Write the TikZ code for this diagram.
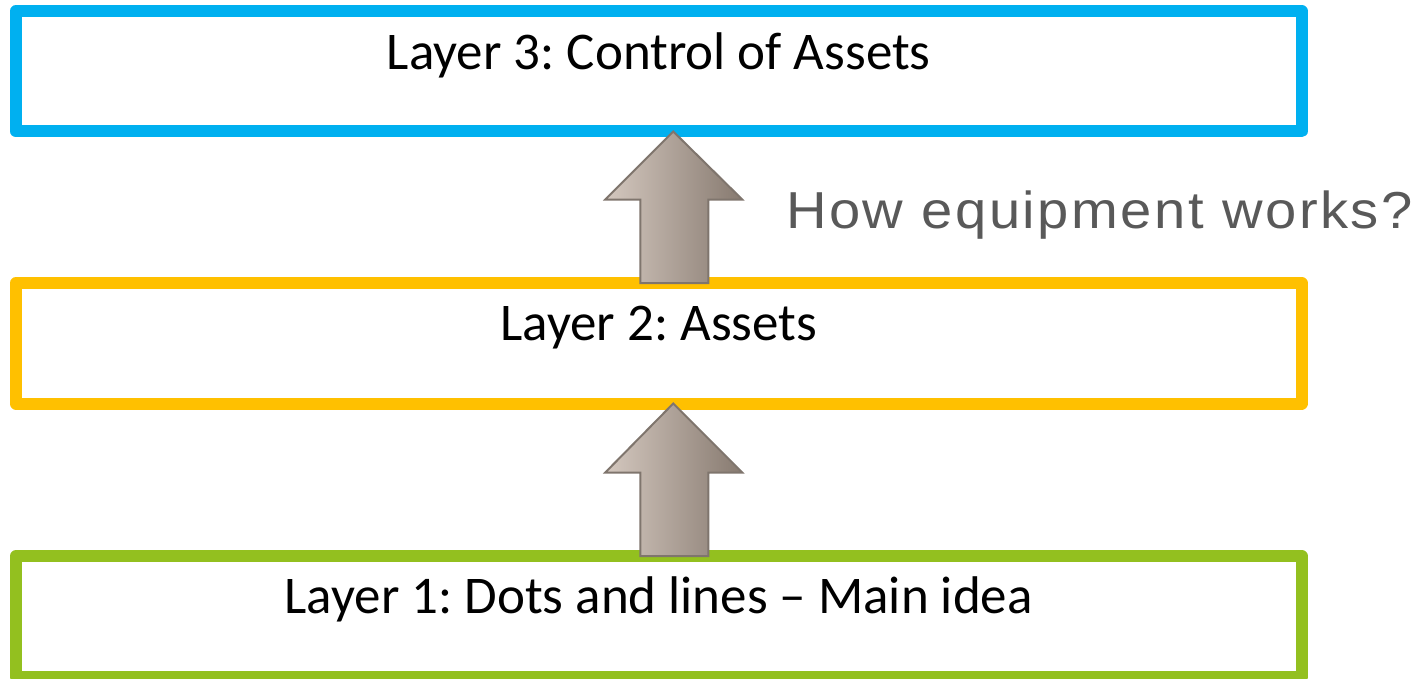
\documentclass[tikz,border=0pt]{standalone}
\usepackage{fontspec}
\setmainfont{Carlito}
\newfontfamily\notefont[LetterSpace=4.5]{Liberation Sans}
\usetikzlibrary{calc}
\definecolor{cblue}{HTML}{00B0F0}
\definecolor{corange}{HTML}{FFC000}
\definecolor{cgreen}{HTML}{93C01F}
\definecolor{agray1}{HTML}{D4C8BF}
\definecolor{agray2}{HTML}{877A70}
\definecolor{aedge}{HTML}{7F756D}
\definecolor{notegray}{HTML}{595959}
\frenchspacing
\begin{document}
\begin{tikzpicture}[x=1pt,y=-1pt,
  layerbox/.style={draw, line width=12pt, line join=round, rectangle, outer sep=0pt, inner sep=0pt,
    minimum width=1285.5pt, minimum height=120.5pt},
  layertext/.style={anchor=base, inner sep=0pt, font=\fontsize{53}{62}\selectfont},
  blockarrow/.style={left color=agray1, right color=agray2, draw=aedge, line width=2pt, line join=miter},
  notetext/.style={anchor=base west, inner sep=0pt, text=notegray, xscale=1.08, font=\notefont\fontsize{52}{60}\selectfont}]
\useasboundingbox (0,0) rectangle (1423,679);
\node[layerbox, draw=cblue] (b3) at (658.75,71.25) {};
\node[layerbox, draw=corange] (b2) at (658.75,343.25) {};
\node[layerbox, draw=cgreen] (b1) at (658.75,616.25) {};
\node[layertext] (t3) at (658.75,70) {Layer 3: Control of Assets};
\node[layertext] (t2) at (658.75,340) {Layer 2: Assets};
\node[layertext] (t1) at (658.75,613) {Layer 1: Dots and lines -- Main idea};
% arrow 1
\coordinate (a1t) at ([xshift=14.5pt]b3.south);
\coordinate (a1b) at ([xshift=14.5pt]b2.north);
\path[blockarrow] (a1t) -- ($(a1t)+(69,68)$) -- ($(a1t)+(35,68)$) -- ($(a1b)+(35,0)$)
  -- ($(a1b)+(-33,0)$) -- ($(a1t)+(-33,68)$) -- ($(a1t)+(-68,68)$) -- cycle;
% arrow 2
\coordinate (a2t) at ([xshift=14.5pt]b2.south);
\coordinate (a2b) at ([xshift=14.5pt]b1.north);
\path[blockarrow] (a2t) -- ($(a2t)+(69,69)$) -- ($(a2t)+(35,69)$) -- ($(a2b)+(35,0)$)
  -- ($(a2b)+(-33,0)$) -- ($(a2t)+(-33,69)$) -- ($(a2t)+(-68,69)$) -- cycle;
\node[notetext] (note) at (786,228) {How equipment works?};
\end{tikzpicture}
\end{document}
